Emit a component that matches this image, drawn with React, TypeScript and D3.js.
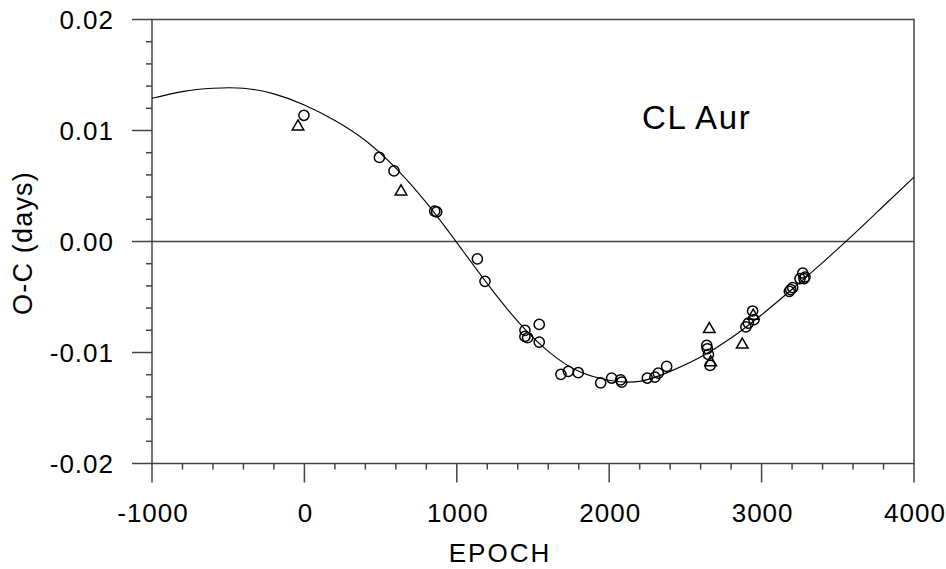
import React from "react";
import * as d3 from "d3";

// observed minima (circles = photoelectric / CCD, triangles = visual)
const circleEpoch = [
  -3, 492, 588, 855, 868, 1135, 1185, 1447, 1447, 1465, 1541, 1541, 1683, 1732,
  1797, 1944, 2016, 2075, 2082, 2250, 2300, 2322, 2377, 2640, 2644, 2651, 2662,
  2897, 2913, 2941, 2950, 3182, 3191, 3204, 3252, 3270, 3278, 3285,
];
const circleOC = [
  0.01137, 0.00757, 0.00636, 0.00273, 0.00267, -0.00157, -0.00359, -0.008,
  -0.00855, -0.00867, -0.00747, -0.00906, -0.01197, -0.0117, -0.01182, -0.01273,
  -0.0123, -0.01246, -0.01267, -0.0123, -0.01222, -0.01186, -0.01125, -0.00936,
  -0.00966, -0.01017, -0.01116, -0.0077, -0.00735, -0.00626, -0.00704, -0.00449,
  -0.00434, -0.00416, -0.00335, -0.00284, -0.00335, -0.0032,
];
const triangleEpoch = [-42, 634, 2657, 2666, 2873, 2945];
const triangleOC = [0.01035, 0.0045, -0.0079, -0.0109, -0.0093, -0.0067];

// fitted curve
const fitEpoch = [
  -1000, -800, -600, -400, -200, 0, 200, 400, 600, 800, 1000, 1200, 1400, 1600,
  1800, 2000, 2200, 2400, 2600, 2800, 3000, 3200, 3400, 3600, 3800, 4000,
];
const fitOC = [
  0.0129, 0.0135, 0.0138, 0.0138, 0.0133, 0.0123, 0.0109, 0.0091, 0.0066,
  0.0035, -0.0001, -0.0038, -0.0072, -0.0099, -0.0117, -0.0125, -0.0126,
  -0.0117, -0.0104, -0.0087, -0.0066, -0.0043, -0.0019, 0.0006, 0.0032, 0.0058,
];

const xTicks = [-1000, 0, 1000, 2000, 3000, 4000];
const yTicks = [0.02, 0.01, 0, -0.01, -0.02];

const W = 946;
const H = 569;
const left = 152;
const right = 914;
const top = 19.5;
const bottom = 463.5;
const axisColor = "#444";
const font = "'Liberation Sans', Arial, sans-serif";

const fmtY = (v: number) => d3.format(".2f")(v).replace("\u2212", "-");

export default function App() {
  const x = d3.scaleLinear().domain([-1000, 4000]).range([left, right]);
  const y = d3.scaleLinear().domain([-0.02, 0.02]).range([bottom, top]);

  const xMinor = d3.range(-1000, 4001, 200).filter((v) => !xTicks.includes(v));
  const yMinor = d3
    .range(-20, 21, 2)
    .map((v) => v / 1000)
    .filter((v) => !yTicks.some((t) => Math.abs(t - v) < 1e-9));

  const fitLine = d3
    .line<number>()
    .x((d, i) => x(fitEpoch[i]))
    .y((d) => y(d))
    .curve(d3.curveNatural);

  const tri = d3.symbol().type(d3.symbolTriangle).size(58)();

  return (
    <svg
      width={W}
      height={H}
      style={{ position: "absolute", left: 0, top: 0, background: "#fff" }}
      fontFamily={font}
    >
      {/* frame */}
      <rect
        x={left}
        y={top}
        width={right - left}
        height={bottom - top}
        fill="none"
        stroke={axisColor}
        strokeWidth={1.5}
      />
      {/* zero line */}
      <line x1={left} x2={right} y1={y(0)} y2={y(0)} stroke={axisColor} strokeWidth={1.5} />

      {/* y axis ticks */}
      {yTicks.map((t) => (
        <g key={"yt" + t}>
          <line x1={left - 20} x2={left} y1={y(t)} y2={y(t)} stroke={axisColor} strokeWidth={1.5} />
          <text
            x={114}
            y={y(t) + 9.5}
            textAnchor="end"
            fontSize={26}
            letterSpacing={1}
            fill="#000"
          >
            {fmtY(t)}
          </text>
        </g>
      ))}
      {yMinor.map((t) => (
        <line key={"ym" + t} x1={left - 6} x2={left} y1={y(t)} y2={y(t)} stroke={axisColor} strokeWidth={1.5} />
      ))}

      {/* x axis ticks */}
      {xTicks.map((t) => (
        <g key={"xt" + t}>
          <line x1={x(t)} x2={x(t)} y1={bottom} y2={bottom + 19} stroke={axisColor} strokeWidth={1.5} />
          <text x={x(t) + 1} y={522} textAnchor="middle" fontSize={26} letterSpacing={1} fill="#000">
            {t}
          </text>
        </g>
      ))}
      {xMinor.map((t) => (
        <line key={"xm" + t} x1={x(t)} x2={x(t)} y1={bottom} y2={bottom + 6} stroke={axisColor} strokeWidth={1.5} />
      ))}

      {/* axis titles */}
      <text x={500} y={562} textAnchor="middle" fontSize={26} letterSpacing={2} fill="#000">
        EPOCH
      </text>
      <text
        transform={`translate(32, 243) rotate(-90)`}
        textAnchor="middle"
        fontSize={27}
        letterSpacing={1.2}
        fill="#000"
      >
        O-C (days)
      </text>
      <text x={642} y={128.5} fontSize={33} letterSpacing={1.6} fill="#000">
        CL Aur
      </text>

      {/* fitted curve */}
      <path d={fitLine(fitOC) ?? ""} fill="none" stroke="#000" strokeWidth={1.1} />

      {/* observations */}
      {circleEpoch.map((e, i) => (
        <circle
          key={"c" + i}
          cx={x(e)}
          cy={y(circleOC[i])}
          r={5.1}
          fill="none"
          stroke="#000"
          strokeWidth={1.5}
        />
      ))}
      {triangleEpoch.map((e, i) => (
        <path
          key={"t" + i}
          d={tri ?? ""}
          transform={`translate(${x(e)},${y(triangleOC[i])})`}
          fill="none"
          stroke="#000"
          strokeWidth={1.5}
        />
      ))}
    </svg>
  );
}
